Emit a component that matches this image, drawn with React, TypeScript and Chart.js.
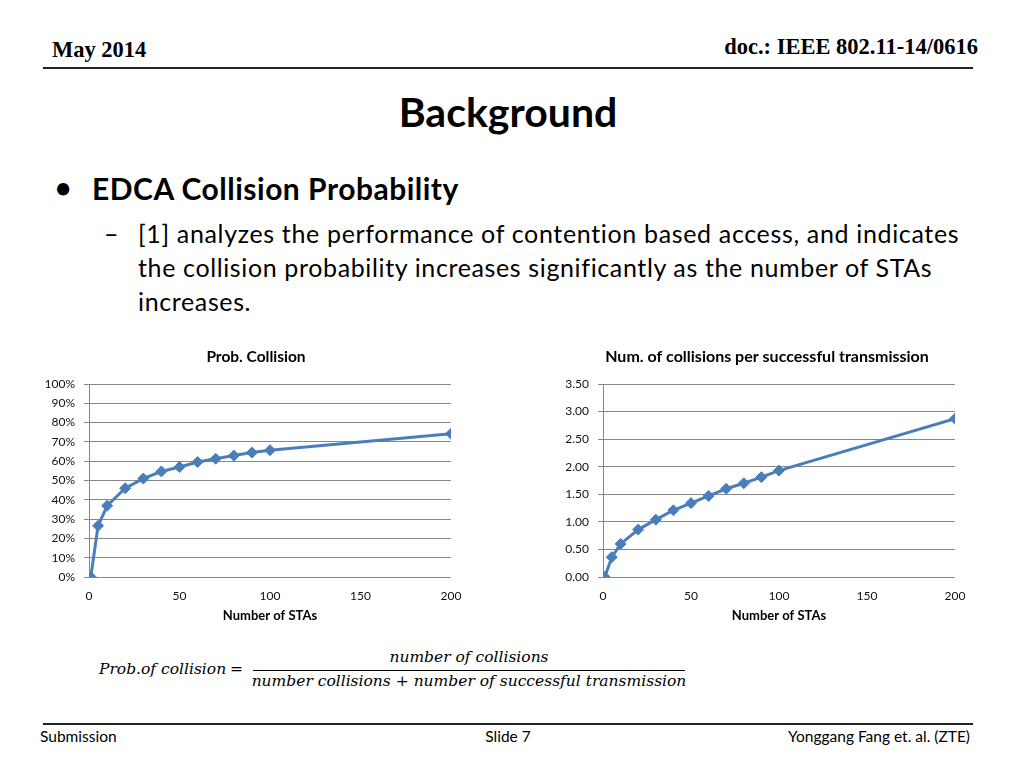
import React, { useEffect, useRef } from "react";
import { Chart, registerables } from "chart.js";

Chart.register(...registerables);

const stas = [1, 5, 10, 20, 30, 40, 50, 60, 70, 80, 90, 100, 200];
const probCollision = [0, 0.265, 0.369, 0.46, 0.51, 0.547, 0.57, 0.596, 0.613, 0.629, 0.645, 0.657, 0.742];
const collisionsPerSuccess = [0, 0.36, 0.6, 0.86, 1.04, 1.21, 1.34, 1.47, 1.6, 1.7, 1.81, 1.93, 2.87];

const xTicks = [0, 50, 100, 150, 200];
const leftTitle = "Prob. Collision";
const rightTitle = "Num. of collisions per successful transmission";
const xAxisTitle = "Number of STAs";

const SANS = "Lato, 'Open Sans', sans-serif";
const SERIF = "'Liberation Serif', 'Times New Roman', serif";
const MATH = "'DejaVu Serif', serif";
const LINE = "#4A7EBB";
const GRID = "#878787";

// draws the chart's title centred on the whole chart box (like the Excel chart)
const chartTitlePlugin = {
  id: "chartTitle",
  afterDraw(chart: any, _args: any, opts: any) {
    if (!opts || !opts.text) return;
    const ctx = chart.ctx;
    ctx.save();
    ctx.font = `bold ${opts.size}px ${SANS}`;
    ctx.fillStyle = "#000";
    ctx.textAlign = "center";
    ctx.textBaseline = "middle";
    ctx.fillText(opts.text, opts.x, opts.y);
    ctx.restore();
  },
};
Chart.register(chartTitlePlugin as any);

type LineChartProps = {
  left: number;
  top: number;
  width: number;
  height: number;
  title: string;
  titleX: number;
  titleSize: number;
  values: number[];
  yMax: number;
  yStep: number;
  fmt: (v: number) => string;
  yWidth: number;
  padRight: number;
};

function LineChart(p: LineChartProps) {
  const ref = useRef<HTMLCanvasElement | null>(null);
  useEffect(() => {
    if (!ref.current) return;
    const chart = new Chart(ref.current, {
      type: "line",
      data: {
        datasets: [
          {
            data: stas.map((x, i) => ({ x, y: p.values[i] })),
            borderColor: LINE,
            backgroundColor: LINE,
            borderWidth: 3,
            pointStyle: "rectRot",
            pointRadius: 5.5,
            pointBorderWidth: 1,
            pointBorderColor: LINE,
            pointBackgroundColor: LINE,
            tension: 0,
            fill: false,
          },
        ],
      },
      options: {
        animation: false,
        responsive: false,
        layout: { padding: { left: 0, right: p.padRight, top: 44, bottom: 0 } },
        plugins: {
          legend: { display: false },
          tooltip: { enabled: false },
          title: { display: false },
          chartTitle: { text: p.title, x: p.titleX, y: 16.5, size: p.titleSize },
        },
        scales: {
          x: {
            type: "linear",
            min: 0,
            max: 200,
            afterBuildTicks: (s: any) => {
              s.ticks = xTicks.map((v) => ({ value: v }));
            },
            ticks: { color: "#111", font: { family: SANS, size: 12 }, padding: 11.5 },
            grid: { display: false, drawTicks: false },
            border: { display: false },
            title: {
              display: true,
              text: xAxisTitle,
              color: "#000",
              font: { family: SANS, size: 13, weight: "bold" },
              padding: { top: 0, bottom: 6.2 },
            },
            afterFit: (s: any) => {
              s.height = 53;
            },
          },
          y: {
            min: 0,
            max: p.yMax,
            ticks: {
              stepSize: p.yStep,
              color: "#111",
              font: { family: SANS, size: 12 },
              padding: 9,
              callback: (v: any) => p.fmt(Number(v)),
            },
            grid: { color: GRID, lineWidth: 1, tickLength: 5 },
            border: { display: true, color: GRID, width: 1 },
            afterFit: (s: any) => {
              s.width = p.yWidth;
            },
          },
        },
      },
    } as any);
    return () => chart.destroy();
  }, []);
  return (
    <canvas
      ref={ref}
      width={p.width}
      height={p.height}
      style={{ position: "absolute", left: p.left, top: p.top, width: p.width, height: p.height }}
    />
  );
}

function T(props: { x: number; y: number; size: number; font?: string; bold?: boolean; italic?: boolean; align?: "left" | "center" | "right"; children: React.ReactNode; spacing?: number }) {
  const { x, y, size, align = "left" } = props;
  const style: React.CSSProperties = {
    position: "absolute",
    top: y - size * 0.6,
    fontSize: size,
    lineHeight: 1.2 + "",
    height: size * 1.2,
    fontFamily: props.font || SANS,
    fontWeight: props.bold ? "bold" : "normal",
    fontStyle: props.italic ? "italic" : "normal",
    whiteSpace: "nowrap",
    color: "#000",
    letterSpacing: props.spacing ? props.spacing + "px" : undefined,
  };
  if (align === "left") style.left = x;
  else if (align === "right") style.right = 1024 - x;
  else {
    style.left = x - 500;
    style.width = 1000;
    style.textAlign = "center";
  }
  return <div style={style}>{props.children}</div>;
}

export default function App() {
  return (
    <div style={{ position: "fixed", left: 0, top: 0, width: 1024, height: 768, background: "#fff", overflow: "hidden" }}>
      <T x={52} y={49} size={22.5} font={SERIF} bold>May 2014</T>
      <T x={978} y={46} size={22.5} font={SERIF} bold align="right">doc.: IEEE 802.11-14/0616</T>
      <div style={{ position: "absolute", left: 43, top: 67, width: 930, height: 2, background: "#222" }} />

      <T x={508} y={112} size={41} bold align="center">Background</T>
      <T x={55} y={188} size={28} bold>•</T>
      <T x={92} y={188} size={30} bold spacing={0.5}>EDCA Collision Probability</T>
      <T x={104} y={233} size={25}>–</T>
      <T x={138} y={233} size={25} spacing={0.66}>[1] analyzes the performance of contention based access, and indicates</T>
      <T x={138} y={267} size={25} spacing={0.63}>the collision probability increases significantly as the number of STAs</T>
      <T x={138} y={301} size={25} spacing={0.63}>increases.</T>

      <LineChart left={20} top={340} width={472} height={290} title={leftTitle} titleX={236} titleSize={15.5} values={probCollision} yMax={1} yStep={0.1} fmt={(v) => Math.round(v * 100) + "%"} yWidth={69} padRight={41} />
      <LineChart left={540} top={340} width={454} height={290} title={rightTitle} titleX={227} titleSize={16} values={collisionsPerSuccess} yMax={3.5} yStep={0.5} fmt={(v) => v.toFixed(2)} yWidth={63} padRight={39} />

      <T x={99} y={669} size={15.5} font={MATH} italic>Prob.of collision</T>
      <T x={230} y={669} size={15.5} font={MATH} italic>=</T>
      <T x={469} y={657} size={15.5} font={MATH} italic align="center">number of collisions</T>
      <div style={{ position: "absolute", left: 253, top: 670, width: 432, height: 1, background: "#000" }} />
      <T x={469} y={681} size={15.5} font={MATH} italic align="center">number collisions + number of successful transmission</T>

      <div style={{ position: "absolute", left: 43, top: 723, width: 930, height: 2, background: "#222" }} />
      <T x={40} y={736} size={15.5}>Submission</T>
      <T x={508} y={736} size={15.5} align="center">Slide 7</T>
      <T x={970} y={736} size={15.5} align="right">Yonggang Fang et. al. (ZTE)</T>
    </div>
  );
}
